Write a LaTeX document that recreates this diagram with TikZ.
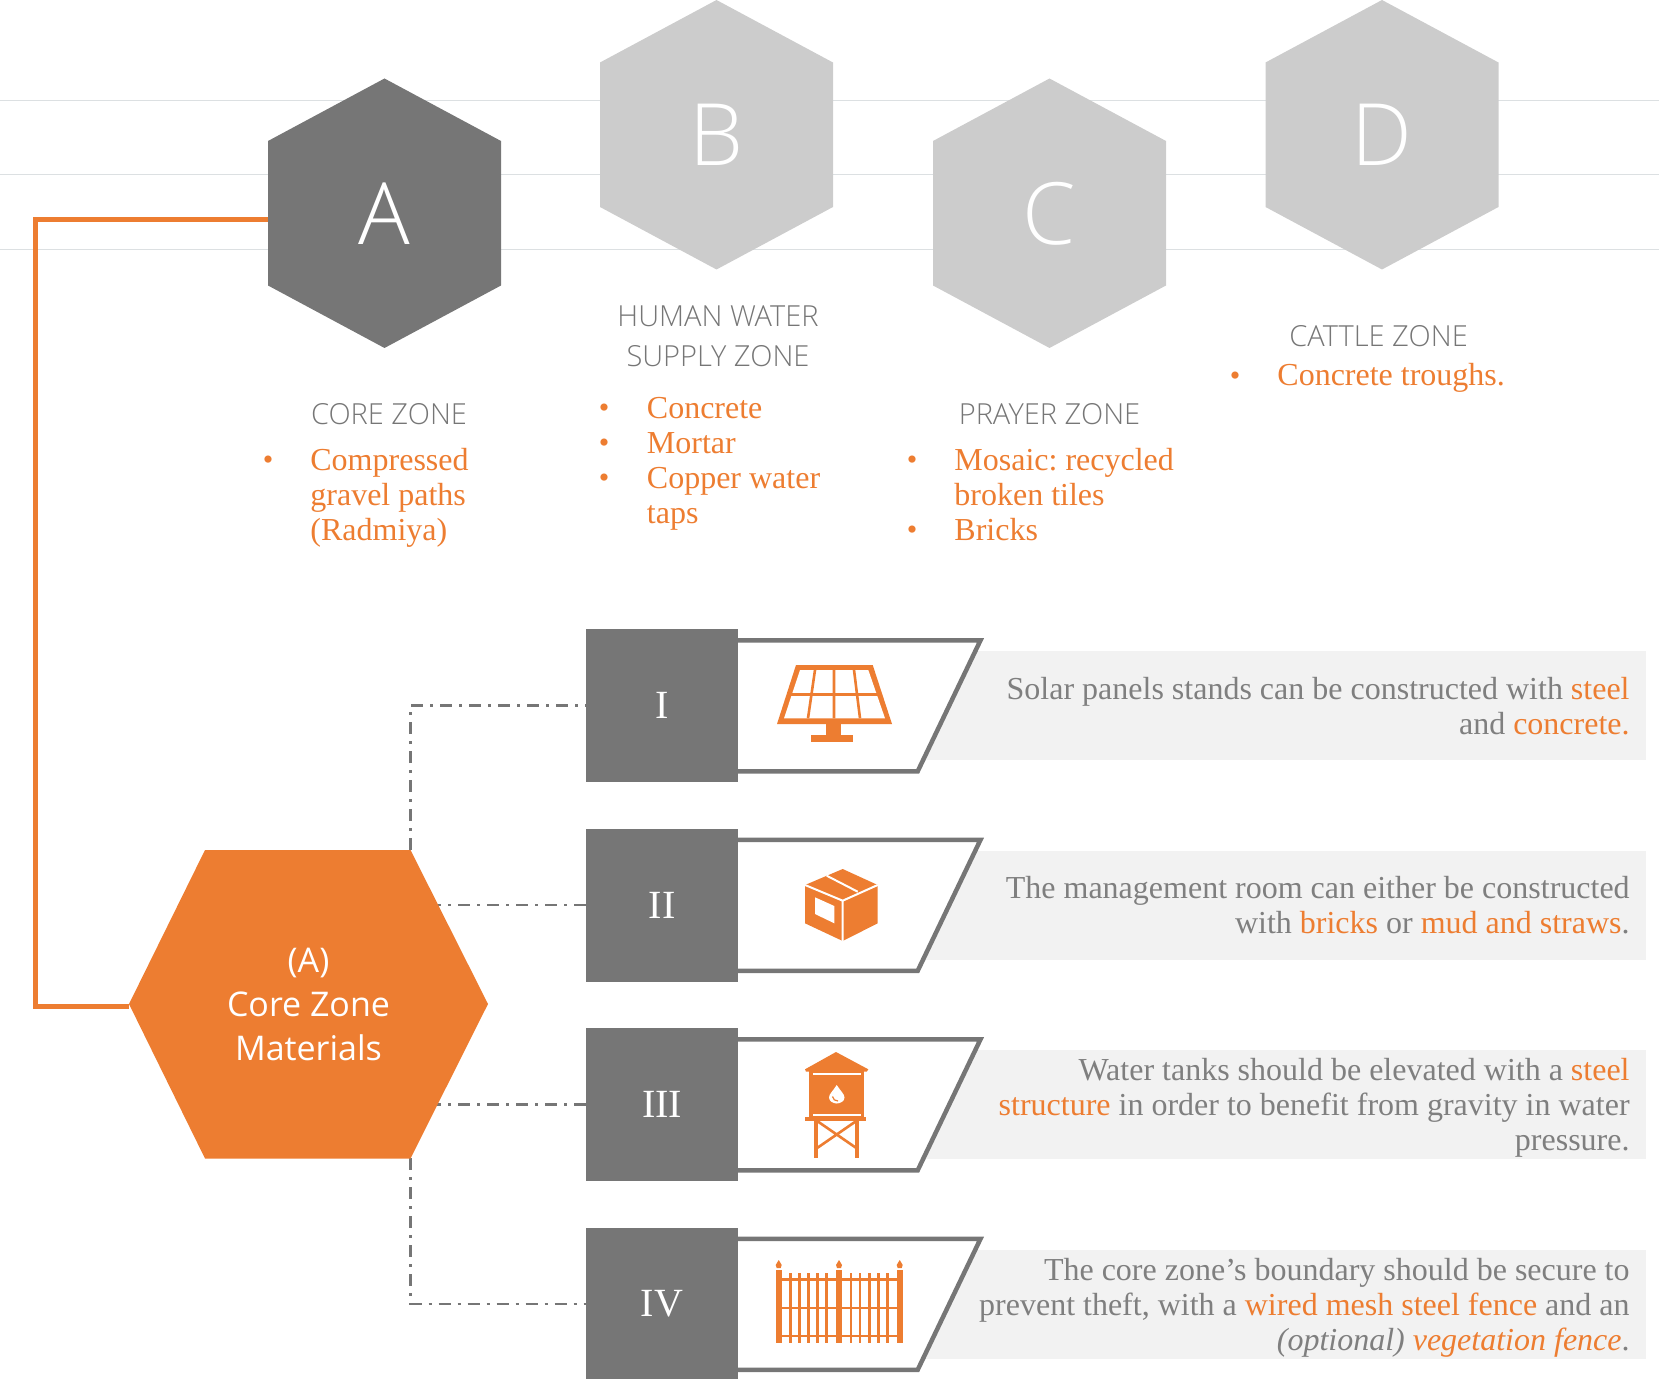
\documentclass[tikz,border=0pt]{standalone}
\usepackage{fontspec}
\usepackage{xcolor}
\setmainfont{Liberation Serif}
\newfontfamily\zonefont{Open Sans}[UprightFont={* Light}]
\newfontfamily\corefont{Open Sans}
\usetikzlibrary{backgrounds}

\definecolor{zoneorange}{HTML}{ED7D31}
\definecolor{zonedark}{HTML}{767676}
\definecolor{zonelight}{HTML}{CCCCCC}
\definecolor{zonepanel}{HTML}{F2F2F2}
\definecolor{zonetext}{HTML}{7F7F7F}
\definecolor{zonerule}{HTML}{DCE0E2}
\newcommand{\hot}[1]{\textcolor{zoneorange}{#1}}
% name, centre x, centre y, colour, letter
\newcommand{\zonehex}[5]{
  \fill[#4] (#2,#3) ++(0,-135) -- ++(116.5,62.5) -- ++(0,144.5) -- ++(-116.5,62.5)
    -- ++(-116.5,-62.5) -- ++(0,-144.5) -- cycle;
  \node[hexzone] (#1) at (#2,#3) {#5};
}

\begin{document}
\frenchspacing
\begin{tikzpicture}[x=0.5pt,y=-0.5pt,
  hexzone/.style={minimum width=116.5pt,minimum height=134.8pt,
  inner sep=0pt,outer sep=0pt,text=white,font=\zonefont\fontsize{43}{43}\selectfont},
  hexcore/.style={minimum width=179.5pt,minimum height=154.2pt,
  inner sep=0pt,outer sep=0pt,text=white,align=center,
  font=\corefont\fontsize{17}{22}\selectfont},
  zonehead/.style={text=zonedark,align=center,
  font=\zonefont\fontsize{14.5}{20}\selectfont},
  zonelist/.style={anchor=west,inner sep=0pt,yshift=-3pt,text=zoneorange,align=left,
  font=\fontsize{16}{17.5}\selectfont,
  execute at begin node=\strut,execute at end node=\strut},
  zonedot/.style={inner sep=0pt,yshift=-2pt,text=zoneorange,font=\fontsize{15}{15}\selectfont},
  numbox/.style={fill=zonedark,minimum width=76pt,minimum height=76.5pt,
  inner sep=0pt,text=white,font=\fontsize{20}{20}\selectfont},
  paneltext/.style={anchor=east,inner sep=0pt,yshift=-2.8pt,text=zonetext,align=right,
  font=\fontsize{16}{17.5}\selectfont,
  execute at begin node=\strut,execute at end node=\strut},
  dashcon/.style={draw=zonedark,line width=1.3pt,
  dash pattern=on 6pt off 3.5pt on 1.5pt off 3.5pt},
  hotline/.style={draw=zoneorange,line width=2.5pt}]

  \clip (0,0) rectangle (1659,1379);

  % hexagons
  \zonehex{hexA}{384.5}{213.5}{zonedark}{A}
  \zonehex{hexB}{716.5}{135}{zonelight}{B}
  \zonehex{hexC}{1049.5}{213.5}{zonelight}{C}
  \zonehex{hexD}{1382}{135}{zonelight}{D}
  \fill[zoneorange] (129,1004) -- (205,850) -- (410.5,850) -- (488,1004)
    -- (410.5,1158.5) -- (205,1158.5) -- cycle;
  \node[hexcore] (core) at (308.5,1004) {(A)\\Core Zone\\Materials};

  \begin{scope}[on background layer]
    \foreach \ruley in {100.6,174.5,249.5}
      \draw[zonerule,line width=0.75pt] (0,\ruley) -- (1659,\ruley);
  \end{scope}

  % zone labels
  \node[zonehead] (headA) at (389,414) {CORE ZONE};
  \node[zonehead] (headB) at (718,336.5) {HUMAN WATER\\SUPPLY ZONE};
  \node[zonehead] (headC) at (1049.5,414) {PRAYER ZONE};
  \node[zonehead] (headD) at (1378.6,336.5) {CATTLE ZONE};

  \node[zonelist] (listA) at (310,494) {Compressed\\gravel paths\\(Radmiya)};
  \node[zonelist] (listB) at (646.5,459.5) {Concrete\\Mortar\\Copper water\\taps};
  \node[zonelist] (listC) at (954,494) {Mosaic: recycled\\broken tiles\\Bricks};
  \node[zonelist] (listD) at (1277,372.5) {Concrete troughs.};

  \node[zonedot] (dotA) at (268,459) {•};
  \node[zonedot] (dotBa) at (604,407) {•};
  \node[zonedot] (dotBb) at (604,442) {•};
  \node[zonedot] (dotBc) at (604,477) {•};
  \node[zonedot] (dotCa) at (912,459) {•};
  \node[zonedot] (dotCb) at (912,529) {•};
  \node[zonedot] (dotD) at (1235,374.5) {•};

  % rows
  \foreach \rowname/\rowy in {I/705.5,II/905,III/1104.5,IV/1304} {
    \fill[zonepanel] (900,\rowy-54.5) rectangle (1646,\rowy+54.5);
    \draw[zonedark,line width=2.25pt,fill=white] (730,\rowy-65.2) -- (980.5,\rowy-65.2)
      -- (917.7,\rowy+65.8) -- (730,\rowy+65.8);
    \node[numbox] (num\rowname) at (662,\rowy) {\rowname};
  }

  \node[paneltext] (textI) at (1630,705.5)
    {Solar panels stands can be constructed with \hot{steel}\\and \hot{concrete.}};
  \node[paneltext] (textII) at (1630,905)
    {The management room can either be constructed\\with \hot{bricks} or \hot{mud and straws}.};
  \node[paneltext] (textIII) at (1630,1104.5)
    {Water tanks should be elevated with a \hot{steel}\\\hot{structure} in order to benefit from gravity in water\\pressure.};
  \node[paneltext] (textIV) at (1630,1304)
    {The core zone’s boundary should be secure to\\prevent theft, with a \hot{wired mesh steel fence} and an\\\textit{(optional)} \hot{\textit{vegetation fence}}.};

  % connectors
  \coordinate (hotA) at (35.5,220);
  \coordinate (hotB) at (35.5,1006);
  \coordinate (coreup) at (410.5,850);
  \coordinate (coredown) at (410.5,1158);
  \begin{scope}[on background layer]
    \draw[hotline] (hexA.west |- hotA) -- (hotA) -- (hotB) -- (core.west |- hotB);
    \draw[dashcon] (coreup) |- (numI.west);
    \draw[dashcon] (numII.west) -- (core.center |- numII.west);
    \draw[dashcon] (numIII.west) -- (core.center |- numIII.west);
    \draw[dashcon] (coredown) |- (numIV.west);
  \end{scope}

  % solar panel
  \fill[zoneorange] (796,665) -- (872.7,665) -- (892,724) -- (777,724) -- cycle;
  \fill[white] (800,670) -- (868.3,670) -- (885,718.3) -- (784,718.3) -- cycle;
  \begin{scope}[zoneorange]
    \draw[line width=1.3pt] (790,694.7) -- (879,694.7);
    \draw[line width=1.3pt] (815,670) -- (808,718.3) (834,670) -- (834,718.3) (854,670) -- (860,718.3);
    \fill (826,724) rectangle (841,736);
    \fill (810.7,735) rectangle (852.7,742);
  \end{scope}

  % box
  \fill[zoneorange] (842.7,869) -- (877.7,885) -- (877.7,923.3) -- (842.7,941)
    -- (805,923.3) -- (805,885) -- cycle;
  \draw[white,line width=1pt] (805,885) -- (842.7,900.7) -- (877.7,885) (842.7,900.7) -- (842.7,941)
    (826.7,875.7) -- (857.7,891.7);
  \fill[white] (815,897.3) -- (834.3,906) -- (834.3,923.3) -- (815,914) -- cycle;

  % water tower
  \fill[zoneorange] (836,1052) -- (868.3,1069.3) -- (866.7,1071.7) -- (806,1071.7) -- (805,1069.3) -- cycle;
  \fill[zoneorange] (809,1071) rectangle (864.3,1117);
  \fill[zoneorange] (805,1117.3) rectangle (865.7,1120.7);
  \fill[white] (812.7,1072.5) rectangle (860.7,1074.8);
  \fill[white] (812.7,1114) rectangle (860.7,1116.3);
  \fill[zoneorange] (814,1120) rectangle (818,1157.7);
  \fill[zoneorange] (855,1120) rectangle (858.7,1157.7);
  \draw[zoneorange,line width=1.3pt] (816.7,1120.7) -- (856.7,1148.3) (856.7,1120.7) -- (816.7,1148.3);
  \fill[white] (836.7,1085) .. controls (833,1091) and (829,1094) .. (829,1097.5)
    .. controls (829,1101) and (833,1103.5) .. (836.7,1103.5)
    .. controls (840.5,1103.5) and (844.5,1101) .. (844.5,1097.5)
    .. controls (844.5,1094) and (840.5,1091) .. (836.7,1085) -- cycle;
  \draw[zoneorange,line width=0.6pt] (832.5,1096.5) .. controls (833,1099.5) and (835,1101) .. (838,1101);

  % fence
  \begin{scope}[zoneorange]
    \foreach \postx in {778.7,839,899.7} {
      \fill (\postx-3,1270) rectangle (\postx+3,1343.3);
      \fill (\postx,1260) -- (\postx+3,1265) -- (\postx+2,1268) -- (\postx-2,1268) -- (\postx-3,1265) -- cycle;
    }
    \foreach \barx in {790.7,799.3,808.7,817.7,826.7,851,860,869.3,878.3,887.3}
      \fill (\barx-1.3,1273.3) rectangle (\barx+1.3,1343.3);
    \foreach \raily in {1279.3,1307.7,1335.7}
      \fill (778,\raily-1.2) rectangle (900,\raily+1.2);
  \end{scope}
\end{tikzpicture}
\end{document}
